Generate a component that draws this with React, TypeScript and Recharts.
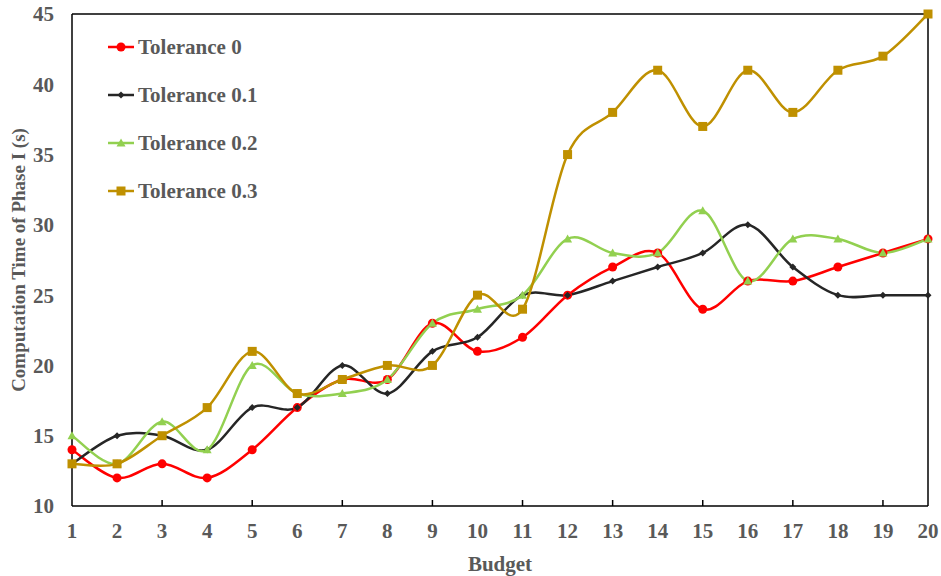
import { LineChart, Line, XAxis, YAxis, Legend, ReferenceLine } from 'recharts'

const budgets = [1, 2, 3, 4, 5, 6, 7, 8, 9, 10, 11, 12, 13, 14, 15, 16, 17, 18, 19, 20]
const tol0 = [14, 12, 13, 12, 14, 17, 19, 19, 23, 21, 22, 25, 27, 28, 24, 26, 26, 27, 28, 29]
const tol01 = [13, 15, 15, 14, 17, 17, 20, 18, 21, 22, 25, 25, 26, 27, 28, 30, 27, 25, 25, 25]
const tol02 = [15, 13, 16, 14, 20, 18, 18, 19, 23, 24, 25, 29, 28, 28, 31, 26, 29, 29, 28, 29]
const tol03 = [13, 13, 15, 17, 21, 18, 19, 20, 20, 25, 24, 35, 38, 41, 37, 41, 38, 41, 42, 45]
const yTicks = [10, 15, 20, 25, 30, 35, 40, 45]

const data = budgets.map((b, i) => ({ budget: b, t0: tol0[i], t1: tol01[i], t2: tol02[i], t3: tol03[i] }))

const TEXT = '#595959'
const FONT = '"Liberation Serif", "Times New Roman", serif'

// Excel-style smoothing (Catmull-Rom with 1/6 control points)
function smoothCurve(context: any) {
  let pts: number[][] = []
  return {
    areaStart() {},
    areaEnd() {},
    lineStart() {
      pts = []
    },
    point(x: number, y: number) {
      pts.push([+x, +y])
    },
    lineEnd() {
      if (!pts.length) return
      context.moveTo(pts[0][0], pts[0][1])
      for (let i = 0; i < pts.length - 1; i++) {
        const p0 = pts[i - 1] || pts[i]
        const p1 = pts[i]
        const p2 = pts[i + 1]
        const p3 = pts[i + 2] || p2
        context.bezierCurveTo(
          p1[0] + (p2[0] - p0[0]) / 6,
          p1[1] + (p2[1] - p0[1]) / 6,
          p2[0] - (p3[0] - p1[0]) / 6,
          p2[1] - (p3[1] - p1[1]) / 6,
          p2[0],
          p2[1]
        )
      }
    },
  }
}

function Marker({ kind, cx, cy, color }: { kind: string; cx: number; cy: number; color: string }) {
  if (kind === 'circle') return <circle cx={cx} cy={cy} r={4.5} fill={color} />
  if (kind === 'diamond')
    return <polygon points={`${cx},${cy - 3.5} ${cx + 3.5},${cy} ${cx},${cy + 3.5} ${cx - 3.5},${cy}`} fill={color} />
  if (kind === 'triangle')
    return <polygon points={`${cx},${cy - 4.5} ${cx + 4.5},${cy + 3.5} ${cx - 4.5},${cy + 3.5}`} fill={color} />
  return <rect x={cx - 4.5} y={cy - 4.5} width={9} height={9} fill={color} />
}

const series = [
  { key: 't0', name: 'Tolerance 0', color: '#FF0000', kind: 'circle' },
  { key: 't1', name: 'Tolerance 0.1', color: '#262626', kind: 'diamond' },
  { key: 't2', name: 'Tolerance 0.2', color: '#92D050', kind: 'triangle' },
  { key: 't3', name: 'Tolerance 0.3', color: '#BF9000', kind: 'square' },
]

function XTick(props: any) {
  const { x, y, payload } = props
  return (
    <g>
      {payload.value % 2 === 1 && payload.value > 1 && (
        <line x1={x} x2={x} y1={y} y2={y - 6} stroke="#000" strokeWidth={1.5} />
      )}
      <text x={x} y={y + 32} textAnchor="middle" fill={TEXT} fontSize={21} fontWeight="bold" fontFamily={FONT}>
        {payload.value}
      </text>
    </g>
  )
}

function LegendBox() {
  return (
    <div style={{ fontFamily: FONT }}>
      {series.map((s) => (
        <div key={s.key} style={{ display: 'flex', alignItems: 'center', height: 48 }}>
          <svg width={28} height={12}>
            <line x1={0} x2={26} y1={6} y2={6} stroke={s.color} strokeWidth={2.5} />
            <Marker kind={s.kind} cx={13} cy={6} color={s.color} />
          </svg>
          <span style={{ color: TEXT, fontSize: 21, fontWeight: 'bold', marginLeft: 2 }}>{s.name}</span>
        </div>
      ))}
    </div>
  )
}

export default function App() {
  return (
    <div style={{ position: 'absolute', left: 0, top: 0, background: '#fff' }}>
      <LineChart width={941} height={576} data={data} margin={{ top: 14, right: 13, left: 0, bottom: 0 }}>
        <XAxis
          dataKey="budget"
          type="number"
          domain={[1, 20]}
          ticks={budgets}
          interval={0}
          height={70}
          tickSize={0}
          tickMargin={0}
          tickLine={false}
          axisLine={{ stroke: '#000', strokeWidth: 1.5 }}
          tick={<XTick />}
          label={{ value: 'Budget', position: 'insideBottom', offset: 5, fill: TEXT, fontSize: 21, fontWeight: 'bold', fontFamily: FONT }}
        />
        <YAxis
          type="number"
          domain={[10, 45]}
          ticks={yTicks}
          width={72}
          tickSize={0}
          tickMargin={18}
          tickLine={false}
          axisLine={{ stroke: '#000', strokeWidth: 1.5 }}
          tick={{ fill: TEXT, fontSize: 21, fontWeight: 'bold', fontFamily: FONT }}
          label={{
            value: 'Computation Time of Phase I (s)',
            angle: -90,
            position: 'insideLeft',
            offset: 18,
            style: { textAnchor: 'middle' },
            fill: TEXT,
            fontSize: 19,
            fontWeight: 'bold',
            fontFamily: FONT,
          }}
        />
        <ReferenceLine y={45} stroke="#000" strokeWidth={1.5} />
        <ReferenceLine x={20} stroke="#000" strokeWidth={1.5} />
        <Legend
          content={<LegendBox />}
          layout="vertical"
          align="center"
          verticalAlign="middle"
          wrapperStyle={{ left: 108, top: 23, width: 220 }}
        />
        {series.map((s) => (
          <Line
            key={s.key}
            dataKey={s.key}
            name={s.name}
            type={smoothCurve as any}
            stroke={s.color}
            strokeWidth={2.5}
            isAnimationActive={false}
            dot={(p: any) => <Marker key={`${s.key}-${p.index}`} kind={s.kind} cx={p.cx} cy={p.cy} color={s.color} />}
            activeDot={false}
          />
        ))}
      </LineChart>
    </div>
  )
}
